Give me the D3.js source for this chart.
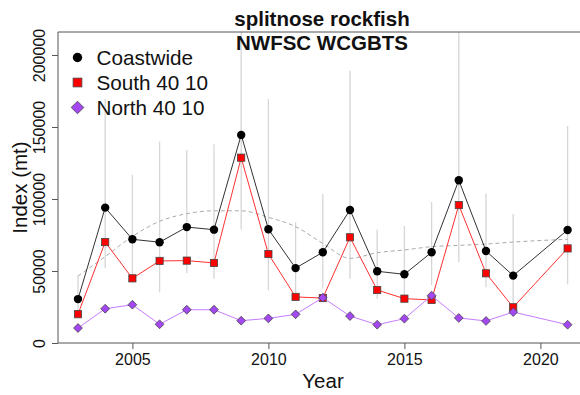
<!DOCTYPE html>
<html>
<head>
<meta charset="utf-8">
<script src="https://cdn.jsdelivr.net/npm/d3@7"></script>
<style>
  body { margin: 0; background: #fff; }
  svg { display: block; font-family: "Liberation Sans", Arial, sans-serif; }
</style>
</head>
<body>
<svg id="chart" width="580" height="395"></svg>
<script>
// values
var years = [2003, 2004, 2005, 2006, 2007, 2008, 2009, 2010, 2011, 2012, 2013, 2014, 2015, 2016, 2017, 2018, 2019, 2021];
var coastwide = [30500, 94000, 72000, 70000, 80500, 78700, 144500, 79000, 52000, 63000, 92400, 49800, 47700, 63000, 113000, 63900, 46800, 78500];
var south = [20000, 70100, 44900, 57000, 57200, 55600, 128700, 61800, 32000, 31200, 73400, 36800, 30800, 29900, 95800, 48400, 24800, 65700];
var north = [10400, 23800, 26600, 13000, 23100, 23100, 15500, 17100, 19900, 31500, 18700, 12700, 16900, 32900, 17400, 15300, 21500, 12700];
var upper = [47000, 169400, 116700, 139800, 134000, 138000, 260000, 169400, 83800, 103400, 189100, 78900, 81200, 97900, 250000, 103900, 89600, 150700];
var lower = [22000, 51900, 45000, 35200, 48400, 44700, 78900, 36600, 34500, 38000, 44700, 30800, 30000, 40300, 56000, 38700, 24000, 40700];
var trend = [46500, 60000, 74000, 84500, 89800, 91800, 91800, 87300, 80800, 69200, 58800, 62700, 64600, 66900, 67800, 68700, 70100, 72000];
var yTicks = [0, 50000, 100000, 150000, 200000];
var xTicks = [2005, 2010, 2015, 2020];
var seriesNames = ["Coastwide", "South 40 10", "North 40 10"];

var svg = d3.select("#chart");
var plotLeft = 58, plotRight = 588, plotTop = 32, plotBottom = 343;

var x = d3.scaleLinear().domain([2002.265, 2021.75]).range([plotLeft, plotRight]);
var y = d3.scaleLinear().domain([0, 215972]).range([plotBottom, plotTop]);

svg.append("clipPath").attr("id", "plotClip")
  .append("rect").attr("x", plotLeft).attr("y", plotTop)
  .attr("width", plotRight - plotLeft).attr("height", plotBottom - plotTop);

var plot = svg.append("g").attr("clip-path", "url(#plotClip)");

// interval bars
plot.selectAll("line.ci")
  .data(years)
  .enter().append("line")
  .attr("class", "ci")
  .attr("x1", d => x(d)).attr("x2", d => x(d))
  .attr("y1", (d, i) => y(lower[i]))
  .attr("y2", (d, i) => y(upper[i]))
  .attr("stroke", "#d6d6d6")
  .attr("stroke-width", 1.3);

var pts = function(vals) { return years.map((d, i) => [d, vals[i]]); };

var line = d3.line().x(d => x(d[0])).y(d => y(d[1]));
var smooth = d3.line().x(d => x(d[0])).y(d => y(d[1])).curve(d3.curveMonotoneX);

plot.append("path")
  .attr("d", smooth(pts(trend)))
  .attr("fill", "none")
  .attr("stroke", "#aaaaaa")
  .attr("stroke-width", 1)
  .attr("stroke-dasharray", "4,3");

var series = [
  { vals: coastwide, stroke: "#333333", fill: "#000000", shape: "circle" },
  { vals: south, stroke: "#ff3030", fill: "#ff0000", shape: "square" },
  { vals: north, stroke: "#c77cff", fill: "#a347f0", shape: "diamond" }
];

function drawSymbol(g, shape, cx, cy, s, fill) {
  if (shape === "circle") {
    g.append("circle").attr("cx", cx).attr("cy", cy).attr("r", s)
      .attr("fill", fill);
  } else if (shape === "square") {
    g.append("rect").attr("x", cx - s).attr("y", cy - s)
      .attr("width", 2 * s).attr("height", 2 * s)
      .attr("fill", fill).attr("stroke", "#444").attr("stroke-width", 0.8);
  } else {
    g.append("path")
      .attr("d", "M" + cx + "," + (cy - s) + "L" + (cx + s) + "," + cy +
        "L" + cx + "," + (cy + s) + "L" + (cx - s) + "," + cy + "Z")
      .attr("fill", fill).attr("stroke", "#444").attr("stroke-width", 0.8);
  }
}

var symSize = { circle: 4.2, square: 3.6, diamond: 4.4 };

series.forEach(function(s) {
  plot.append("path")
    .attr("d", line(pts(s.vals)))
    .attr("fill", "none")
    .attr("stroke", s.stroke)
    .attr("stroke-width", 1);
  var g = plot.append("g");
  years.forEach(function(d, i) {
    drawSymbol(g, s.shape, x(d), y(s.vals[i]), symSize[s.shape], s.fill);
  });
});

// frame
var axisColor = "#555";
svg.append("line").attr("x1", plotLeft).attr("x2", plotRight).attr("y1", plotTop).attr("y2", plotTop)
  .attr("stroke", axisColor);
svg.append("line").attr("x1", plotLeft).attr("x2", plotRight).attr("y1", plotBottom).attr("y2", plotBottom)
  .attr("stroke", axisColor);
svg.append("line").attr("x1", plotLeft).attr("x2", plotLeft).attr("y1", plotTop).attr("y2", plotBottom)
  .attr("stroke", axisColor);

// x axis
var xAxis = svg.append("g").attr("transform", "translate(0," + plotBottom + ")")
  .call(d3.axisBottom(x).tickValues(xTicks).tickFormat(d3.format("d")).tickSize(6).tickPadding(5));
xAxis.select(".domain").remove();
xAxis.selectAll(".tick line").attr("stroke", axisColor);
xAxis.selectAll("text").attr("font-size", 16).attr("fill", "#111")
  .attr("font-family", "Liberation Sans, Arial, sans-serif");

// y axis, labels parallel to axis
var yAxis = svg.append("g").attr("transform", "translate(" + plotLeft + ",0)")
  .call(d3.axisLeft(y).tickValues(yTicks).tickFormat(d3.format("d")).tickSize(6));
yAxis.select(".domain").remove();
yAxis.selectAll(".tick line").attr("stroke", axisColor);
yAxis.selectAll("text")
  .attr("font-size", 16).attr("fill", "#111")
  .attr("font-family", "Liberation Sans, Arial, sans-serif")
  .attr("text-anchor", "middle")
  .attr("x", 0).attr("dy", 0)
  .attr("transform", "translate(-13,0) rotate(-90)");

// axis titles
svg.append("text").attr("x", 323).attr("y", 388)
  .attr("text-anchor", "middle").attr("font-size", 20.5).attr("fill", "#111")
  .text("Year");
svg.append("text")
  .attr("transform", "translate(27," + ((plotTop + plotBottom) / 2) + ") rotate(-90)")
  .attr("text-anchor", "middle").attr("font-size", 20.5).attr("fill", "#111")
  .text("Index (mt)");

// title
svg.append("text").attr("x", 322).attr("y", 26)
  .attr("text-anchor", "middle").attr("font-size", 20.5).attr("font-weight", "bold")
  .attr("fill", "#111").text("splitnose rockfish");
svg.append("text").attr("x", 322).attr("y", 50)
  .attr("text-anchor", "middle").attr("font-size", 20.5).attr("font-weight", "bold")
  .attr("fill", "#111").text("NWFSC WCGBTS");

// legend
var legend = svg.append("g");
var legendSize = { circle: 4.7, square: 4.4, diamond: 6.3 };
seriesNames.forEach(function(name, i) {
  var cy = 57.5 + i * 25;
  drawSymbol(legend, series[i].shape, 77.5, cy, legendSize[series[i].shape], series[i].fill);
  legend.append("text").attr("x", 96.5).attr("y", cy + 7.5)
    .attr("font-size", 20.7).attr("fill", "#111").text(name);
});
</script>
</body>
</html>
